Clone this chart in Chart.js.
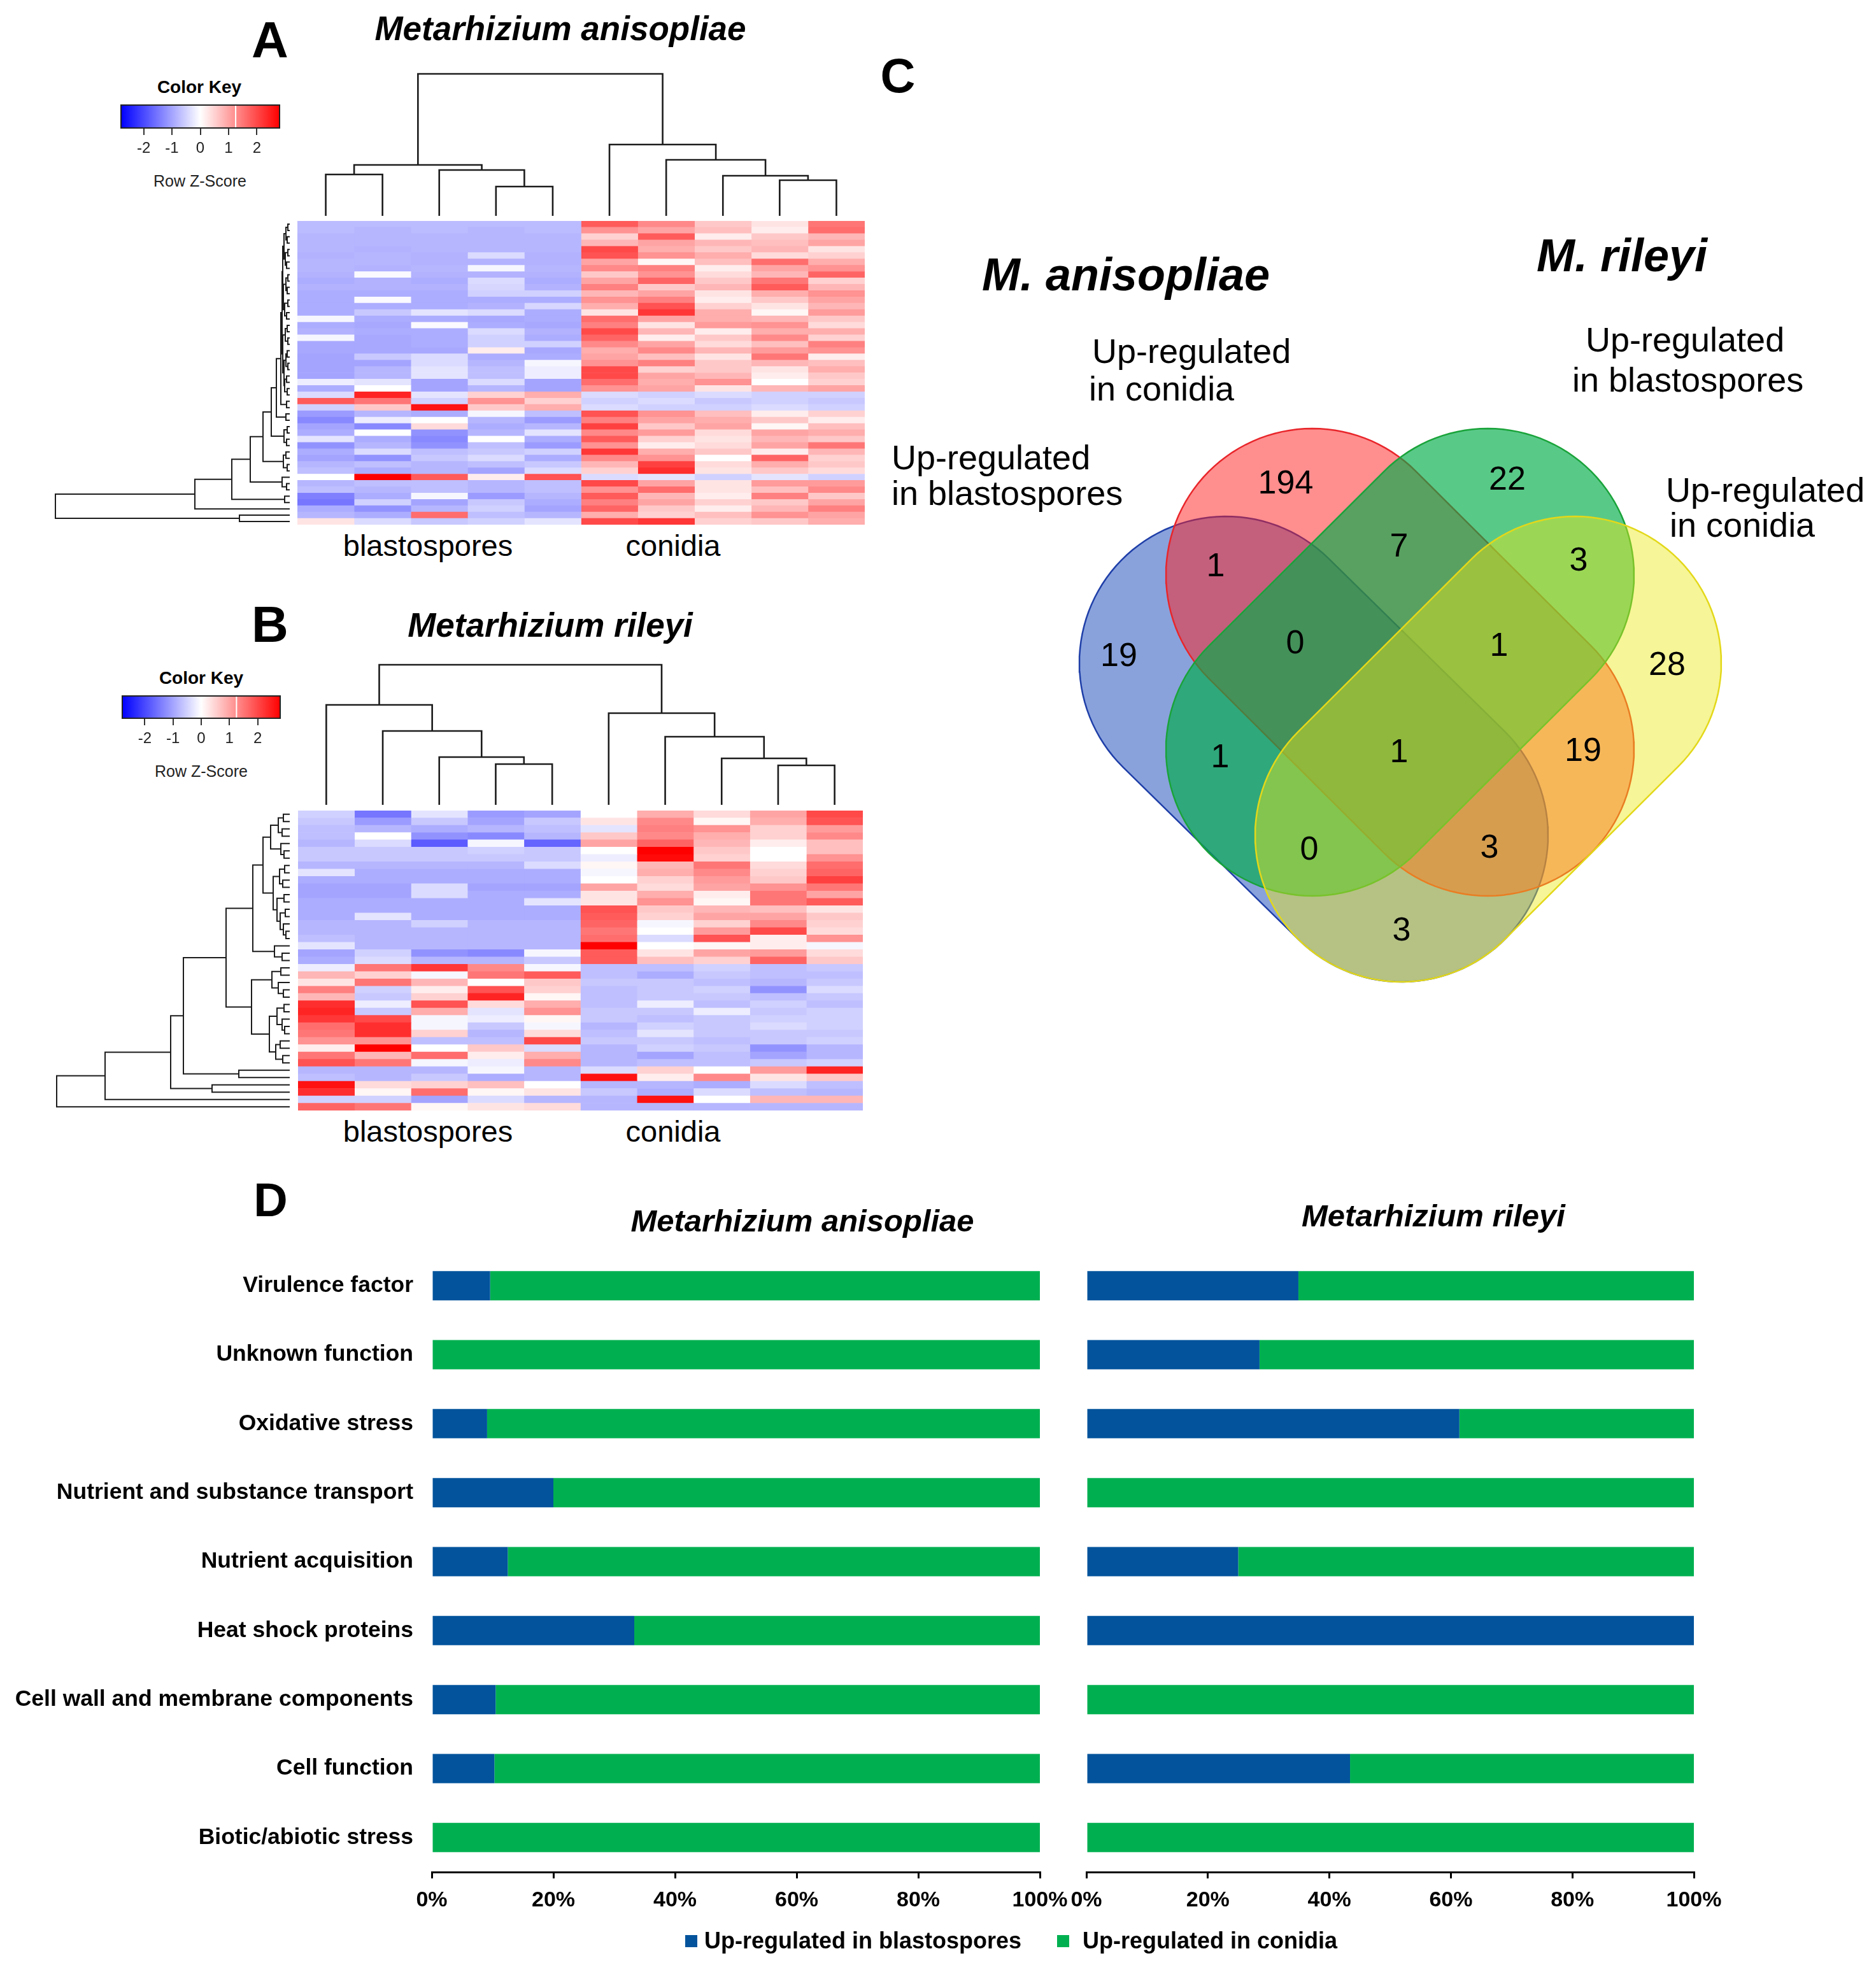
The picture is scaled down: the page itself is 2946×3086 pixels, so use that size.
<!DOCTYPE html>
<html>
<head>
<meta charset="utf-8">
<script src="https://cdn.jsdelivr.net/npm/chart.js@4.4.1/dist/chart.umd.min.js"></script>
<style>
  html, body { margin: 0; padding: 0; background: #fff; }
  body { width: 2946px; height: 3086px; position: relative; overflow: hidden; font-family: "Liberation Sans", Arial, sans-serif; }
  .box { position: absolute; }
  .box canvas { display: block; }
  .txt { position: absolute; white-space: nowrap; line-height: 1; color: #000; }
  .c { transform: translate(-50%, -50%); }
  .l { transform: translate(0, -50%); }
  .sq { position: absolute; width: 19px; height: 19px; }
</style>
</head>
<body>
<script>
// ---------- data ----------
const categories = ['Virulence factor', 'Unknown function', 'Oxidative stress', 'Nutrient and substance transport',
  'Nutrient acquisition', 'Heat shock proteins', 'Cell wall and membrane components', 'Cell function', 'Biotic/abiotic stress'];
const blastoAniso = [9.6, 0, 9.1, 20, 12.5, 33.3, 10.5, 10.3, 0];
const conidiaAniso = [90.4, 100, 90.9, 80, 87.5, 66.7, 89.5, 89.7, 100];
const blastoRileyi = [34.9, 28.5, 61.4, 0, 25, 100, 0, 43.4, 0];
const conidiaRileyi = [65.1, 71.5, 38.6, 100, 75, 0, 100, 56.6, 100];
const pctTicks = [0, 20, 40, 60, 80, 100];
const seriesNames = ['Up-regulated in blastospores', 'Up-regulated in conidia'];

const keyTicks = [-2, -1, 0, 1, 2];
const keyMax = 2.8;
const keyTrace = 1.25;

// row z-scores, columns 1-5 blastospores, 6-10 conidia
const heatAniso = [
  [-0.75, -0.75, -0.75, -0.75, -0.75, 1.8, 1.3, 0.6, 0.3, 1.5],
  [-0.75, -0.8, -0.75, -0.8, -0.75, 1.2, 1.0, 0.7, 0.2, 1.6],
  [-0.8, -0.8, -0.8, -0.8, -0.8, 0.5, 1.8, 0.2, 0.6, 0.8],
  [-0.8, -0.8, -0.8, -0.8, -0.8, 0.8, 1.0, 0.8, 0.7, 1.0],
  [-0.8, -0.85, -0.8, -0.8, -0.8, 2.0, 0.9, 0.6, 0.8, 0.3],
  [-0.85, -0.8, -0.85, -0.4, -0.85, 1.9, 1.2, 0.9, 0.4, 0.5],
  [-0.8, -0.8, -0.85, -0.85, -0.85, 1.0, 0.1, 0.7, 1.6, 0.9],
  [-0.8, -0.85, -0.8, -0.1, -0.8, 1.3, 1.4, 0.2, 1.0, 1.2],
  [-0.85, -0.05, -0.85, -0.85, -0.85, 0.6, 1.2, 0.4, 0.8, 1.7],
  [-0.9, -0.85, -0.9, -0.4, -0.9, 1.0, 1.7, 0.6, 1.5, 0.5],
  [-0.85, -0.85, -0.85, -0.45, -0.85, 1.4, 0.6, 0.8, 1.8, 0.8],
  [-0.9, -0.9, -0.9, -0.5, -0.5, 0.8, 1.0, 0.3, 0.9, 1.2],
  [-0.9, -0.05, -0.9, -0.9, -0.9, 1.2, 1.4, 0.2, 0.6, 1.0],
  [-0.9, -0.9, -0.9, -0.85, -0.45, 0.9, 1.9, 0.5, 0.3, 0.8],
  [-0.9, -0.6, -0.3, -0.4, -0.9, 0.3, 2.2, 0.9, 0.1, 1.1],
  [-0.1, -0.9, -0.9, -0.95, -0.9, 1.6, 1.0, 0.9, 0.8, 0.6],
  [-0.9, -0.95, -0.05, -0.9, -0.95, 1.4, 0.3, 1.1, 1.2, 0.4],
  [-0.85, -0.9, -0.9, -0.4, -0.85, 2.0, 0.8, 0.2, 0.9, 0.9],
  [-0.1, -0.95, -0.9, -0.5, -0.9, 1.7, 0.2, 0.6, 1.3, 0.5],
  [-0.95, -0.95, -0.9, -0.5, -0.5, 1.3, 1.0, 0.4, 0.7, 1.4],
  [-0.95, -0.95, -0.95, 0.2, -0.95, 0.9, 1.3, 0.8, 1.1, 1.2],
  [-1.0, -0.6, -0.4, -0.9, -0.9, 1.0, 0.7, 0.3, 1.5, 0.2],
  [-1.0, -1.0, -0.4, -0.8, -0.1, 1.2, 1.4, 0.6, 0.8, 0.7],
  [-1.0, -0.8, -0.3, -0.7, -0.2, 2.0, 0.5, 0.6, 0.3, 0.9],
  [-1.0, -0.8, -0.3, -0.7, -0.2, 2.0, 1.0, 0.8, 0.2, 0.6],
  [-0.2, -0.3, -1.0, -0.4, -1.0, 1.6, 0.9, 1.2, 0.0, 0.5],
  [-0.9, 0.0, -1.0, -0.8, -1.0, 1.2, 1.0, 0.3, 0.8, 1.0],
  [-0.4, 2.4, -0.3, 0.5, 0.9, -0.4, -0.5, -0.4, -0.5, -0.5],
  [1.8, 1.5, -0.5, 1.2, 0.5, -0.5, -0.4, -0.6, -0.5, -0.6],
  [-0.5, 0.6, 2.6, 0.6, 0.9, -0.4, -0.5, -0.5, -0.4, -0.5],
  [-1.1, -0.8, -0.9, -0.1, -0.7, 1.9, 1.2, 0.7, 0.2, 0.5],
  [-1.3, -0.2, 0.0, -0.8, -1.1, 1.4, 1.0, 0.9, 0.6, 0.2],
  [-1.0, -1.3, 0.4, -0.9, -0.8, 2.1, 0.6, 1.0, 0.1, 0.7],
  [-0.9, 0.0, -1.2, -0.8, -0.3, 1.3, 1.1, 0.4, 1.0, 0.9],
  [-0.3, -0.9, -1.3, 0.0, -0.9, 1.8, 0.5, 0.3, 0.8, 0.6],
  [-1.2, -0.8, -1.2, -0.7, -1.1, 1.2, 0.2, 0.4, 1.0, 1.5],
  [-0.9, -0.4, -0.7, -0.6, -0.5, 2.2, 0.9, 0.6, 0.2, 0.8],
  [-1.0, -1.2, -0.6, -0.4, -0.9, 1.3, 1.2, 0.0, 1.7, 0.5],
  [-0.8, -0.7, -0.8, -0.7, -0.6, 0.8, 2.1, 0.4, 0.9, 0.6],
  [-0.7, -0.9, -0.8, -1.0, -0.4, 0.5, 2.3, 0.3, 0.6, 0.4],
  [0.0, 2.8, 1.8, 0.2, 1.9, -0.4, -0.3, -0.5, -0.3, -0.5],
  [-0.8, -0.7, -0.7, -0.8, -0.7, 2.0, 1.0, 0.3, 1.1, 1.1],
  [-0.7, -0.8, -0.7, -0.8, -0.7, 1.2, 1.6, 0.3, 0.7, 1.3],
  [-1.4, -0.9, -0.1, -1.1, -0.8, 1.8, 0.8, 0.2, 1.4, 0.6],
  [-1.5, -0.5, -1.0, -0.6, -0.9, 1.4, 1.0, 0.5, 0.6, 1.0],
  [-0.9, -1.2, -0.8, -0.5, -1.0, 1.7, 0.6, 0.2, 0.8, 1.4],
  [-0.8, -0.9, 1.6, -0.7, -0.8, 0.9, 0.5, 0.7, 1.2, 1.0],
  [0.3, -0.4, -0.6, -0.5, -0.3, 2.0, 2.2, 0.5, 0.6, 0.9],
];

const heatRileyi = [
  [-0.5, -1.5, -0.3, -1.1, -1.0, 0.0, 0.9, 0.4, 1.0, 2.0],
  [-0.6, -1.1, -0.6, -1.0, -0.6, 0.3, 1.3, 0.1, 0.9, 1.9],
  [-0.7, -0.8, -0.9, -0.8, -0.7, -0.3, 1.4, 1.2, 0.5, 1.1],
  [-0.7, 0.0, -1.2, -1.3, -0.8, 0.6, 1.3, 0.9, 0.5, 1.3],
  [-0.8, -0.4, -1.8, -0.1, -1.7, 1.0, 1.7, 0.8, 0.2, 0.7],
  [-0.6, -0.6, -0.6, -0.5, -0.6, 0.0, 2.8, 0.6, 0.0, 0.7],
  [-0.6, -0.6, -0.6, -0.6, -0.6, -0.2, 2.7, 0.5, 0.0, 1.2],
  [-0.8, -0.8, -0.8, -0.8, -0.4, 0.1, 0.8, 1.5, 0.4, 1.6],
  [-0.3, -0.9, -0.9, -0.9, -0.9, -0.1, 0.9, 1.3, 0.5, 1.7],
  [-0.9, -0.9, -0.9, -0.9, -0.9, 0.0, 0.5, 1.1, 0.6, 2.1],
  [-1.0, -1.0, -0.4, -1.0, -1.0, 1.0, 0.4, 1.0, 1.2, 1.5],
  [-1.0, -1.0, -0.4, -0.9, -0.9, 0.3, 0.9, 0.2, 1.5, 1.0],
  [-0.9, -0.9, -0.9, -0.9, -0.3, 0.3, 1.2, 0.1, 1.5, 1.8],
  [-0.9, -0.9, -0.9, -0.9, -0.9, 1.9, 0.6, 0.8, 0.7, 0.3],
  [-0.9, -0.3, -0.9, -0.9, -0.9, 1.8, 0.5, 1.0, 1.0, 0.6],
  [-0.8, -0.8, -0.5, -0.8, -0.8, 1.7, -0.1, 0.5, 1.3, 0.5],
  [-0.8, -0.8, -0.8, -0.8, -0.8, 1.5, 0.0, 1.1, 2.0, 0.4],
  [-0.7, -0.8, -0.8, -0.8, -0.8, 1.6, -0.4, 1.9, 0.2, 1.2],
  [-0.3, -0.8, -0.8, -0.8, -0.8, 2.8, 0.0, 0.1, 0.2, -0.1],
  [-1.0, -0.5, -1.2, -1.3, -0.1, 1.8, 0.3, 1.0, 1.1, 0.4],
  [-0.9, -0.4, -0.8, -0.8, -0.6, 1.8, 0.7, 0.5, 1.7, 0.6],
  [-0.2, 1.5, 2.2, 1.3, -0.1, -0.7, -0.7, -0.5, -0.7, -0.6],
  [0.8, 0.5, -0.1, 1.5, 1.8, -0.7, -0.9, -0.6, -0.7, -0.7],
  [0.3, 1.5, 0.8, 0.0, 0.6, -0.6, -0.6, -0.7, -0.8, -0.6],
  [1.4, -0.5, 0.2, 1.9, 0.5, -0.7, -0.6, -0.5, -1.2, -0.4],
  [0.8, -0.6, 0.5, 2.4, 0.1, -0.7, -0.6, -0.6, -0.7, -0.6],
  [2.3, -0.2, 1.9, 0.4, 0.9, -0.7, -0.2, -0.7, -0.5, -0.7],
  [2.4, -0.6, 0.9, -0.3, 1.2, -0.6, -0.6, -0.2, -0.6, -0.5],
  [2.2, 2.0, -0.1, -0.2, 0.1, -0.6, -0.7, -0.6, -0.5, -0.5],
  [1.6, 2.3, -0.1, -0.6, -0.1, -0.8, -0.5, -0.6, -0.4, -0.5],
  [1.5, 2.3, 0.5, -0.8, 0.4, -0.7, -0.3, -0.6, -0.6, -0.6],
  [1.2, 1.2, -0.7, -0.7, 2.0, -0.6, -0.6, -0.7, -0.6, -0.5],
  [0.2, 2.8, 0.0, 0.6, -0.4, -0.8, -0.5, -0.6, -1.2, -0.8],
  [1.5, 0.8, 1.6, 0.2, 0.9, -0.8, -1.0, -0.7, -1.0, -0.8],
  [1.9, 1.5, -0.1, -0.2, 1.3, -0.8, -0.7, -0.7, -0.6, -0.5],
  [-0.8, -0.8, -0.8, -0.1, -0.8, -0.4, 0.5, 0.0, 1.1, 2.4],
  [-0.7, -0.8, -0.6, -0.9, -0.8, 2.6, 0.2, 1.3, 0.3, 0.6],
  [2.6, 0.4, 0.5, 0.7, 0.0, -0.8, -0.8, -0.9, -0.4, -0.7],
  [2.3, 0.1, 1.6, 0.1, 0.3, -0.6, -0.9, -0.4, -0.7, -0.8],
  [-0.5, -0.5, -1.0, -0.4, -0.8, -0.8, 2.6, 0.0, 0.8, 0.8],
  [1.7, 1.5, 0.1, 0.3, 0.4, -0.8, -0.8, -0.8, -0.8, -0.8],
];

// dendrograms as nested [left, right, height]; numbers are leaf indices
const colTreeAniso = [[[0, 1, 65], [2, [3, 4, 46], 72], 80], [5, [6, [7, [8, 9, 56], 63], 88], 112], 223];
const colTreeRileyi = [[0, [1, [2, [3, 4, 64], 75], 116], 157], [5, [6, [7, [8, 9, 62], 73], 107], 144], 220];

const rowCoreAniso = [
  [[[[0, 1, 3], [2, 3, 4], 6], [[4, 5, 3], [6, 7, 5], 7], 9],
   [[[8, 9, 3], [10, 11, 4], 6], [[12, 13, 3], [14, 15, 5], 8], 10], 11],
  [[[16, 17, 4], [18, 19, 3], 7], [[[20, 21, 4], [22, 23, 3], 6], [[24, 25, 5], [26, 27, 4], 8], 9], 11],
  12];
const rowChainAniso = [
  [[28, 29, 5], 14],
  [[30, 31, 6], 21],
  [[[32, 33, 4], [34, 35, 5], 9], 29],
  [[[36, 37, 6], [38, 39, 4], 10], 42],
  [[40, [41, 42, 5], 12], 62],
  [[43, 44, 8], 91],
  [45, 149],
  [[46, 47, 79], 368],
];

const rowCoreRileyi = [
  [[[[[0, 1, 10], [2, 3, 12], 18], [4, [5, 6, 9], 14], 30],
    [[[7, 8, 8], [9, 10, 11], 16], [[11, 12, 9], [[13, 14, 7], [15, [16, 17, 6], 10], 15], 20], 26], 42],
   [18, [19, 20, 12], 24], 58],
  [[[21, 22, 14], [23, [24, 25, 10], 18], 28],
   [[[26, 27, 9], [28, [29, 30, 8], 12], 20], [[31, 32, 15], [33, 34, 11], 22], 32], 60],
  100];
const rowChainRileyi = [
  [[35, 36, 80], 167],
  [[37, 38, 122], 187],
  [39, 290],
  [40, 366],
];

// Venn: counts per region
const vennRegions = ['MaC', 'MrB', 'MaB+MaC', 'MaC+MrB', 'MrB+MrC', 'MaB', 'MaB+MaC+MrB', 'MaC+MrB+MrC', 'MrC',
  'MaB+MrB', 'all', 'MaC+MrC', 'MaB+MrB+MrC', 'MaB+MaC+MrC', 'MaB+MrC'];
const vennCounts = [194, 22, 1, 7, 3, 19, 0, 1, 28, 1, 1, 19, 0, 3, 3];

// ---------- layout ----------
const blue = '#02539c';
const green = '#00b050';
// capsule end centres in venn units (px inside the venn box), radius
const vennShapes = [
  { name: 'MaB', a: [275, 441], b: [551, 712], fill: 'rgba(20,70,185,0.5)', line: '#1f3fa8', order: 4 },
  { name: 'MaC', a: [411, 303], b: [686, 577], fill: 'rgba(255,30,30,0.5)', line: '#e8262b', order: 3 },
  { name: 'MrB', a: [686, 303], b: [411, 577], fill: 'rgba(0,172,72,0.65)', line: '#1aa33a', order: 2 },
  { name: 'MrC', a: [823, 441], b: [551, 712], fill: 'rgba(235,232,25,0.45)', line: '#e3d81a', order: 1 },
];
const vennRadius = 230;
const vennCountPos = [[369, 159], [717, 153], [259, 289], [547, 258], [829, 280], [107, 430], [384, 410], [704, 414],
  [968, 444], [266, 589], [547, 581], [836, 579], [406, 734], [689, 731], [551, 861]];

Chart.defaults.font.family = '"Liberation Sans", Arial, sans-serif';
Chart.defaults.color = '#000';

function makeChart(x, y, w, h, padding, config) {
  const box = document.createElement('div');
  box.className = 'box';
  box.style.left = x + 'px';
  box.style.top = y + 'px';
  box.style.width = w + 'px';
  box.style.height = h + 'px';
  const cv = document.createElement('canvas');
  cv.width = w;
  cv.height = h;
  cv.style.width = w + 'px';
  cv.style.height = h + 'px';
  box.appendChild(cv);
  document.body.appendChild(box);
  config.options = Object.assign({ responsive: false, animation: false, events: [] }, config.options);
  config.options.layout = { padding };
  config.options.plugins = Object.assign({ legend: { display: false }, tooltip: { enabled: false } }, config.options.plugins || {});
  return new Chart(cv, config);
}

function addText(str, x, y, size, style) {
  const d = document.createElement('div');
  d.className = 'txt ' + (style.indexOf('left') >= 0 ? 'l' : 'c');
  d.textContent = str;
  d.style.left = x + 'px';
  d.style.top = y + 'px';
  d.style.fontSize = size + 'px';
  d.style.fontWeight = style.indexOf('bold') >= 0 ? 'bold' : 'normal';
  d.style.fontStyle = style.indexOf('italic') >= 0 ? 'italic' : 'normal';
  if (style.indexOf('grey') >= 0) d.style.color = '#222';
  document.body.appendChild(d);
}

function zColor(z) {
  const t = Math.min(Math.abs(z) / keyMax, 1);
  const v = Math.round(255 * (1 - t));
  return z < 0 ? `rgb(${v},${v},255)` : `rgb(255,${v},${v})`;
}

function buildTree(core, chain) {
  return chain.reduce((acc, [branch, h]) => [acc, branch, h], core);
}

function dendroSegments(tree) {
  const segs = [];
  function walk(node) {
    if (typeof node === 'number') return { pos: node + 0.5, h: 0 };
    const a = walk(node[0]);
    const b = walk(node[1]);
    const h = node[2];
    segs.push([[a.pos, a.h], [a.pos, h], [b.pos, h], [b.pos, b.h]]);
    return { pos: (a.pos + b.pos) / 2, h };
  }
  walk(tree);
  return segs;
}

// ---------- heatmaps ----------
function heatChart(x, y, w, h, matrix) {
  const nCols = matrix[0].length;
  const datasets = [];
  for (let c = 0; c < nCols; c++) {
    datasets.push({
      data: matrix.map(() => [c, c + 1]),
      backgroundColor: matrix.map(row => zColor(row[c])),
      borderWidth: 0,
      borderSkipped: false,
      barPercentage: 1,
      categoryPercentage: 1,
      grouped: false,
    });
  }
  makeChart(x, y, w, h, 0, {
    type: 'bar',
    data: { labels: matrix.map((_, i) => i + 1), datasets },
    options: {
      indexAxis: 'y',
      scales: {
        x: { type: 'linear', min: 0, max: nCols, display: false },
        y: { display: false },
      },
    },
  });
}

function dendroChart(x, y, w, h, tree, span, count, sideways) {
  const pad = 4;
  const datasets = dendroSegments(tree).map(s => ({
    data: s.map(([pos, ht]) => (sideways ? { x: ht, y: pos } : { x: pos, y: ht })),
    showLine: true,
    borderColor: '#1c1c1c',
    borderWidth: sideways ? 2 : 2.6,
    pointRadius: 0,
    tension: 0,
    clip: false,
  }));
  const scales = sideways
    ? { x: { type: 'linear', min: 0, max: span, reverse: true, display: false },
        y: { type: 'linear', min: 0, max: count, reverse: true, display: false } }
    : { x: { type: 'linear', min: 0, max: count, display: false },
        y: { type: 'linear', min: 0, max: span, display: false } };
  makeChart(x - pad, y - pad, w + 2 * pad, h + 2 * pad, pad, { type: 'scatter', data: { datasets }, options: { scales } });
}

const keyPlugin = {
  id: 'keyGradient',
  beforeDatasetsDraw(chart) {
    const { ctx, chartArea: a, scales } = chart;
    const g = ctx.createLinearGradient(scales.x.getPixelForValue(-keyMax), 0, scales.x.getPixelForValue(keyMax), 0);
    g.addColorStop(0, 'rgb(0,0,255)');
    g.addColorStop(0.5, 'rgb(255,255,255)');
    g.addColorStop(1, 'rgb(255,0,0)');
    ctx.save();
    ctx.fillStyle = g;
    ctx.fillRect(a.left, a.top, a.width, a.height);
    ctx.restore();
  },
  afterDatasetsDraw(chart) {
    const { ctx, chartArea: a } = chart;
    ctx.save();
    ctx.strokeStyle = '#222';
    ctx.lineWidth = 2;
    ctx.strokeRect(a.left, a.top, a.width, a.height);
    ctx.restore();
  },
};

function keyChart(x, y, w, h) {
  const pad = 10, axisH = 50;
  makeChart(x - pad, y - pad, w + 2 * pad, h + pad + axisH, { left: pad, right: pad, top: pad, bottom: 0 }, {
    type: 'scatter',
    data: { datasets: [{ data: [{ x: keyTrace, y: 0 }, { x: keyTrace, y: 1 }], showLine: true, borderColor: '#fff', borderWidth: 2, pointRadius: 0 }] },
    options: {
      scales: {
        x: {
          type: 'linear', min: -keyMax, max: keyMax,
          afterBuildTicks: s => { s.ticks = keyTicks.map(v => ({ value: v })); },
          afterFit: s => { s.height = axisH; },
          ticks: { font: { size: 24 }, color: '#222', padding: 7, maxRotation: 0 },
          grid: { drawOnChartArea: false, drawTicks: true, tickLength: 11, color: '#333', lineWidth: 2 },
          border: { display: false },
        },
        y: { min: 0, max: 1, display: false },
      },
    },
    plugins: [keyPlugin],
  });
}

const rowTreeAniso = buildTree(rowCoreAniso, rowChainAniso);
const rowTreeRileyi = buildTree(rowCoreRileyi, rowChainRileyi);

// panel A
heatChart(467, 347, 891, 477, heatAniso);
dendroChart(467, 116, 891, 223, colTreeAniso, 223, 10, false);
dendroChart(85, 347, 370, 477, rowTreeAniso, 370, heatAniso.length, true);
keyChart(190, 165, 249, 36);
// panel B
heatChart(468, 1273, 887, 471, heatRileyi);
dendroChart(468, 1044, 887, 220, colTreeRileyi, 220, 10, false);
dendroChart(85, 1273, 370, 471, rowTreeRileyi, 370, heatRileyi.length, true);
keyChart(192, 1093, 248, 35);

// ---------- venn ----------
function capsule(a, b, r) {
  const th = Math.atan2(b[1] - a[1], b[0] - a[0]);
  const pts = [];
  const n = 60;
  for (let i = 0; i <= n; i++) {
    const t = th - Math.PI / 2 + Math.PI * i / n;
    pts.push({ x: b[0] + r * Math.cos(t), y: b[1] + r * Math.sin(t) });
  }
  for (let i = 0; i <= n; i++) {
    const t = th + Math.PI / 2 + Math.PI * i / n;
    pts.push({ x: a[0] + r * Math.cos(t), y: a[1] + r * Math.sin(t) });
  }
  pts.push(pts[0]);
  return pts;
}

const vennLabelPlugin = {
  id: 'vennCounts',
  afterDatasetsDraw(chart) {
    const { ctx, scales } = chart;
    ctx.save();
    ctx.font = '52px "Liberation Sans", Arial, sans-serif';
    ctx.fillStyle = '#000';
    ctx.textAlign = 'center';
    ctx.textBaseline = 'middle';
    vennCounts.forEach((v, i) => {
      const p = vennCountPos[i];
      ctx.fillText(String(v), scales.x.getPixelForValue(p[0]), scales.y.getPixelForValue(p[1]) + 2);
    });
    ctx.restore();
  },
};

makeChart(1650, 600, 1100, 1000, 0, {
  type: 'scatter',
  data: {
    datasets: vennShapes.map(s => ({
      label: s.name,
      data: capsule(s.a, s.b, vennRadius),
      showLine: true,
      fill: 'shape',
      backgroundColor: s.fill,
      borderColor: s.line,
      borderWidth: 2.5,
      pointRadius: 0,
      tension: 0,
      order: s.order,
      clip: false,
    })),
  },
  options: {
    scales: {
      x: { type: 'linear', min: 0, max: 1100, display: false },
      y: { type: 'linear', min: 0, max: 1000, reverse: true, display: false },
    },
    plugins: { filler: { drawTime: 'beforeDatasetDraw' } },
  },
  plugins: [vennLabelPlugin],
});

// ---------- stacked bars (D) ----------
// the label axis asks for half a label height plus tick padding above the plot, so the top pad matches it
function barChart(x, y, w, h, padding, blueVals, greenVals, withLabels) {
  makeChart(x, y, w, h, padding, {
    type: 'bar',
    data: {
      labels: categories,
      datasets: [
        { label: seriesNames[0], data: blueVals, backgroundColor: blue, borderWidth: 0, categoryPercentage: 0.425, barPercentage: 1 },
        { label: seriesNames[1], data: greenVals, backgroundColor: green, borderWidth: 0, categoryPercentage: 0.425, barPercentage: 1 },
      ],
    },
    options: {
      indexAxis: 'y',
      scales: {
        x: {
          stacked: true, min: 0, max: 100,
          afterBuildTicks: s => { s.ticks = pctTicks.map(v => ({ value: v })); },
          afterFit: s => { s.height = 90; },
          ticks: { callback: v => v + '%', font: { size: 34, weight: 'bold' }, color: '#000', padding: 14, maxRotation: 0, autoSkip: false },
          grid: { drawOnChartArea: false, drawTicks: true, tickLength: 10, color: '#000', lineWidth: 3 },
          border: { display: true, color: '#000', width: 3 },
        },
        y: withLabels ? {
          stacked: true,
          afterFit: s => { s.width = 678; },
          ticks: { font: { size: 35.5, weight: 'bold' }, color: '#000', padding: 29, autoSkip: false },
          grid: { display: false, drawTicks: false },
          border: { display: false },
        } : { stacked: true, display: false },
      },
    },
  });
}

barChart(0, 1905, 1703, 1125, { left: 0, top: 60, right: 70, bottom: 0 }, blastoAniso, conidiaAniso, true);
barChart(1636, 1905, 1104, 1125, { left: 70, top: 60, right: 80, bottom: 0 }, blastoRileyi, conidiaRileyi, false);

// ---------- texts ----------
addText('A', 424, 63, 80, 'bold');
addText('Metarhizium anisopliae', 880, 44, 53, 'bold italic');
addText('Color Key', 313, 137, 28, 'bold');
addText('Row Z-Score', 314, 284, 25, 'grey');
addText('blastospores', 672, 856, 47, '');
addText('conidia', 1057, 856, 47, '');

addText('B', 424, 981, 80, 'bold');
addText('Metarhizium rileyi', 864, 981, 53, 'bold italic');
addText('Color Key', 316, 1065, 28, 'bold');
addText('Row Z-Score', 316, 1211, 25, 'grey');
addText('blastospores', 672, 1776, 47, '');
addText('conidia', 1057, 1776, 47, '');

addText('C', 1410, 119, 76, 'bold');
addText('M. anisopliae', 1768, 431, 72, 'bold italic');
addText('M. rileyi', 2547, 401, 72, 'bold italic');
addText('Up-regulated', 1715, 551, 54, 'left');
addText('in conidia', 1710, 610, 54, 'left');
addText('Up-regulated', 1400, 718, 54, 'left');
addText('in blastospores', 1400, 774, 54, 'left');
addText('Up-regulated', 2490, 533, 54, 'left');
addText('in blastospores', 2469, 596, 54, 'left');
addText('Up-regulated', 2616, 769, 54, 'left');
addText('in conidia', 2622, 824, 54, 'left');

addText('D', 425, 1885, 74, 'bold');
addText('Metarhizium anisopliae', 1260, 1917, 49, 'bold italic');
addText('Metarhizium rileyi', 2251, 1909, 49, 'bold italic');

[[1076, blue, 1106, seriesNames[0]], [1660, green, 1700, seriesNames[1]]].forEach(([mx, col, tx, name]) => {
  const sq = document.createElement('div');
  sq.className = 'sq';
  sq.style.left = mx + 'px';
  sq.style.top = '3039px';
  sq.style.background = col;
  document.body.appendChild(sq);
  addText(name, tx, 3048, 36, 'bold left');
});
</script>
</body>
</html>
